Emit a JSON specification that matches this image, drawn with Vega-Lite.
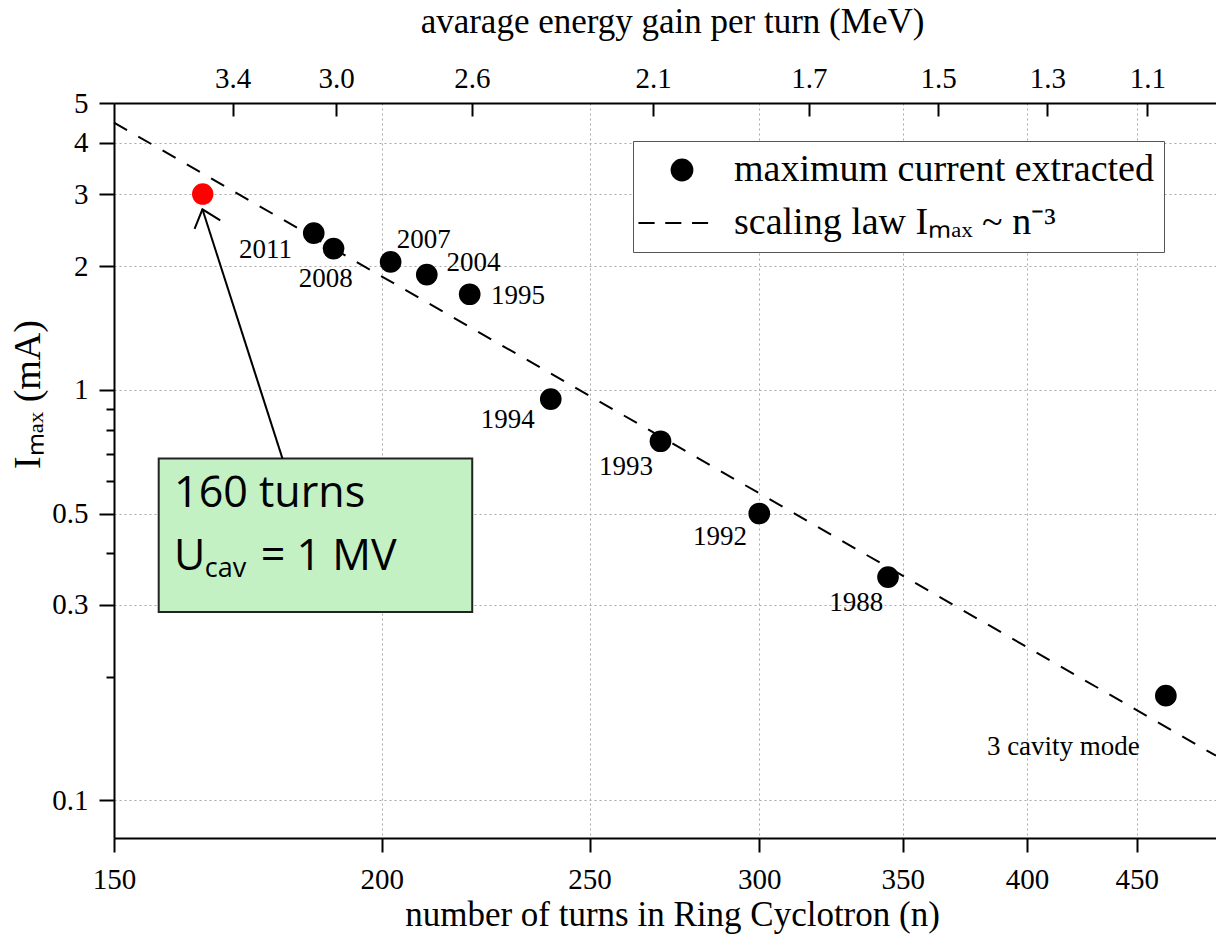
{
  "$schema": "https://vega.github.io/schema/vega-lite/v6.json",
  "width": 1102,
  "height": 735,
  "autosize": {"type": "none"},
  "padding": {"left": 114, "top": 103, "right": 0, "bottom": 101},
  "background": "white",
  "config": {
    "view": {"stroke": null},
    "font": "Liberation Serif",
    "axis": {
      "labelFont": "Liberation Serif",
      "titleFont": "Liberation Serif",
      "labelColor": "black",
      "titleColor": "black",
      "domainColor": "black",
      "tickColor": "black",
      "domainWidth": 2,
      "tickWidth": 2,
      "labelFontSize": 29,
      "titleFontSize": 35,
      "titleFontWeight": "normal",
      "labelOverlap": false,
      "gridColor": "#a8a8a8",
      "gridDash": [2, 3],
      "gridWidth": 1
    }
  },
  "datasets": {
    "law": [
      {"n": 150, "I": 4.48},
      {"n": 490, "I": 0.1285}
    ],
    "points": [
      {"n": 185.9, "I": 2.41, "year": "2011", "series": "maximum current extracted"},
      {"n": 189.9, "I": 2.21, "year": "2008", "series": "maximum current extracted"},
      {"n": 201.9, "I": 2.05, "year": "2007", "series": "maximum current extracted"},
      {"n": 209.9, "I": 1.91, "year": "2004", "series": "maximum current extracted"},
      {"n": 219.8, "I": 1.71, "year": "1995", "series": "maximum current extracted"},
      {"n": 239.8, "I": 0.95, "year": "1994", "series": "maximum current extracted"},
      {"n": 269.8, "I": 0.75, "year": "1993", "series": "maximum current extracted"},
      {"n": 300, "I": 0.5, "year": "1992", "series": "maximum current extracted"},
      {"n": 344.5, "I": 0.35, "year": "1988", "series": "maximum current extracted"},
      {"n": 464.3, "I": 0.18, "year": "3 cavity mode", "series": "maximum current extracted"}
    ],
    "target": [
      {"n": 165, "I": 3.0}
    ],
    "labels": [
      {"n": 176.5, "I": 2.19, "text": "2011"},
      {"n": 188.3, "I": 1.863, "text": "2008"},
      {"n": 209.2, "I": 2.319, "text": "2007"},
      {"n": 220.7, "I": 2.035, "text": "2004"},
      {"n": 231.5, "I": 1.697, "text": "1995"},
      {"n": 229.0, "I": 0.845, "text": "1994"},
      {"n": 260.0, "I": 0.648, "text": "1993"},
      {"n": 287.6, "I": 0.439, "text": "1992"},
      {"n": 332.9, "I": 0.302, "text": "1988"},
      {"n": 415.9, "I": 0.1353, "text": "3 cavity mode"}
    ],
    "box": [
      {"n1": 157.38, "n2": 220.4, "I1": 0.2876, "I2": 0.6803}
    ],
    "boxText": [
      {"n": 160.0, "I": 0.5198, "text": "160 turns"},
      {"n": 160.0, "I": 0.3645, "text": "U"},
      {"n": 175.6, "I": 0.3645, "text": "= 1 MV"}
    ],
    "boxSub": [
      {"n": 165.36, "I": 0.3499, "text": "cav"}
    ],
    "arrow": [
      {"n1": 179.76, "I1": 0.6803, "n2": 164.95, "I2": 2.7544}
    ]
  },
  "layer": [
    {
      "data": {"name": "law"},
      "mark": {"type": "line", "color": "black", "strokeWidth": 2, "strokeDash": [15, 13]},
      "encoding": {
        "x": {
          "field": "n", "type": "quantitative",
          "scale": {"type": "log", "domain": [150, 490], "nice": false},
          "axis": {
            "orient": "bottom",
            "values": [150, 200, 250, 300, 350, 400, 450],
            "format": "~g",
            "tickSize": 14,
            "labelBaseline": "alphabetic",
            "labelPadding": 36,
            "labelFlush": false,
            "grid": true,
            "title": "number of turns in Ring Cyclotron (n)",
            "titleX": 558,
            "titleY": 87,
            "titleBaseline": "alphabetic",
            "titleAlign": "center"
          }
        },
        "y": {
          "field": "I", "type": "quantitative",
          "scale": {"type": "log", "domain": [0.081, 5], "nice": false},
          "axis": {
            "orient": "left",
            "values": [0.1, 0.3, 0.5, 1, 2, 3, 4, 5],
            "format": "~g",
            "tickSize": 15,
            "labelPadding": 11,
            "labelFlush": false,
            "grid": true,
            "title": "Iₘₐₓ (mA)",
            "titleFontSize": 38,
            "titleX": -86,
            "titleY": 291,
            "titleBaseline": "middle",
            "titleAlign": "center"
          }
        }
      }
    },
    {
      "data": {"name": "points"},
      "mark": {"type": "point", "filled": true, "color": "black", "size": 470, "opacity": 1, "strokeWidth": 0},
      "encoding": {
        "x": {
          "field": "n", "type": "quantitative",
          "scale": {"type": "log", "domain": [150, 490], "nice": false},
          "axis": {
            "orient": "top",
            "values": [170.4, 190.4, 220.3, 267.7, 316.4, 363.5, 408.8, 455.2],
            "labelExpr": "datum.value < 180 ? '3.4' : datum.value < 200 ? '3.0' : datum.value < 240 ? '2.6' : datum.value < 290 ? '2.1' : datum.value < 340 ? '1.7' : datum.value < 390 ? '1.5' : datum.value < 430 ? '1.3' : '1.1'",
            "tickSize": -13,
            "labelBaseline": "alphabetic",
            "labelPadding": 28.7,
            "labelFlush": false,
            "grid": false,
            "title": "avarage energy gain per turn (MeV)",
            "titleX": 558,
            "titleY": -71,
            "titleBaseline": "alphabetic",
            "titleAlign": "center"
          }
        },
        "y": {
          "field": "I", "type": "quantitative",
          "scale": {"type": "log", "domain": [0.081, 5], "nice": false},
          "axis": {
            "orient": "left",
            "values": [0.2, 0.4, 0.6, 0.7, 0.8, 0.9],
            "tickSize": 8,
            "labels": false,
            "domain": false,
            "grid": false,
            "title": null
          }
        },
        "shape": {
          "field": "series", "type": "nominal",
          "scale": {
            "domain": ["maximum current extracted", "scaling law Iₘₐₓ ~ n⁻³"],
            "range": ["circle", "M-3.82,-0.09H-2.40V0.09H-3.82Z M-1.47,-0.09H-0.06V0.09H-1.47Z M0.88,-0.09H2.29V0.09H0.88Z"]
          },
          "legend": {
            "orient": "none",
            "legendX": 519,
            "legendY": 38,
            "title": null,
            "labelFont": "Liberation Serif",
            "labelFontSize": 38,
            "labelLimit": 800,
            "labelColor": "black",
            "symbolSize": 520,
            "symbolStrokeWidth": 0,
            "symbolFillColor": "black",
            "symbolOpacity": 1,
            "strokeColor": "#555555",
            "fillColor": "white",
            "padding": 10,
            "rowPadding": 15,
            "symbolOffset": 20,
            "labelOffset": 33,
            "cornerRadius": 0
          }
        }
      }
    },
    {
      "data": {"name": "target"},
      "mark": {"type": "point", "filled": true, "color": "#ff0000", "size": 460, "opacity": 1, "strokeWidth": 0},
      "encoding": {
        "x": {"field": "n", "type": "quantitative", "scale": {"type": "log", "domain": [150, 490], "nice": false}, "axis": null},
        "y": {"field": "I", "type": "quantitative", "scale": {"type": "log", "domain": [0.081, 5], "nice": false}, "axis": null}
      }
    },
    {
      "data": {"name": "box"},
      "mark": {"type": "rect", "fill": "#c3f1c3", "stroke": "#222222", "strokeWidth": 2},
      "encoding": {
        "x": {"field": "n1", "type": "quantitative", "scale": {"type": "log", "domain": [150, 490], "nice": false}, "axis": null},
        "x2": {"field": "n2"},
        "y": {"field": "I1", "type": "quantitative", "scale": {"type": "log", "domain": [0.081, 5], "nice": false}, "axis": null},
        "y2": {"field": "I2"}
      }
    },
    {
      "data": {"name": "boxText"},
      "mark": {"type": "text", "font": "Open Sans", "fontSize": 43, "align": "left", "baseline": "alphabetic", "color": "black"},
      "encoding": {
        "x": {"field": "n", "type": "quantitative", "scale": {"type": "log", "domain": [150, 490], "nice": false}, "axis": null},
        "y": {"field": "I", "type": "quantitative", "scale": {"type": "log", "domain": [0.081, 5], "nice": false}, "axis": null},
        "text": {"field": "text"}
      }
    },
    {
      "data": {"name": "boxSub"},
      "mark": {"type": "text", "font": "Open Sans", "fontSize": 27, "align": "left", "baseline": "alphabetic", "color": "black"},
      "encoding": {
        "x": {"field": "n", "type": "quantitative", "scale": {"type": "log", "domain": [150, 490], "nice": false}, "axis": null},
        "y": {"field": "I", "type": "quantitative", "scale": {"type": "log", "domain": [0.081, 5], "nice": false}, "axis": null},
        "text": {"field": "text"}
      }
    },
    {
      "data": {"name": "arrow"},
      "mark": {"type": "rule", "color": "black", "strokeWidth": 2},
      "encoding": {
        "x": {"field": "n1", "type": "quantitative", "scale": {"type": "log", "domain": [150, 490], "nice": false}, "axis": null},
        "x2": {"field": "n2"},
        "y": {"field": "I1", "type": "quantitative", "scale": {"type": "log", "domain": [0.081, 5], "nice": false}, "axis": null},
        "y2": {"field": "I2"}
      }
    },
    {
      "data": {"name": "arrow"},
      "mark": {"type": "point", "shape": "M-0.643,0.766L0,0L0.643,0.766", "size": 1764, "angle": 342, "filled": false, "color": "black", "strokeWidth": 2, "opacity": 1},
      "encoding": {
        "x": {"field": "n2", "type": "quantitative", "scale": {"type": "log", "domain": [150, 490], "nice": false}, "axis": null},
        "y": {"field": "I2", "type": "quantitative", "scale": {"type": "log", "domain": [0.081, 5], "nice": false}, "axis": null}
      }
    },
    {
      "data": {"name": "labels"},
      "mark": {"type": "text", "font": "Liberation Serif", "fontSize": 27, "align": "center", "baseline": "middle", "color": "black"},
      "encoding": {
        "x": {"field": "n", "type": "quantitative", "scale": {"type": "log", "domain": [150, 490], "nice": false}, "axis": null},
        "y": {"field": "I", "type": "quantitative", "scale": {"type": "log", "domain": [0.081, 5], "nice": false}, "axis": null},
        "text": {"field": "text"}
      }
    }
  ],
  "resolve": {"axis": {"x": "independent", "y": "independent"}}
}
